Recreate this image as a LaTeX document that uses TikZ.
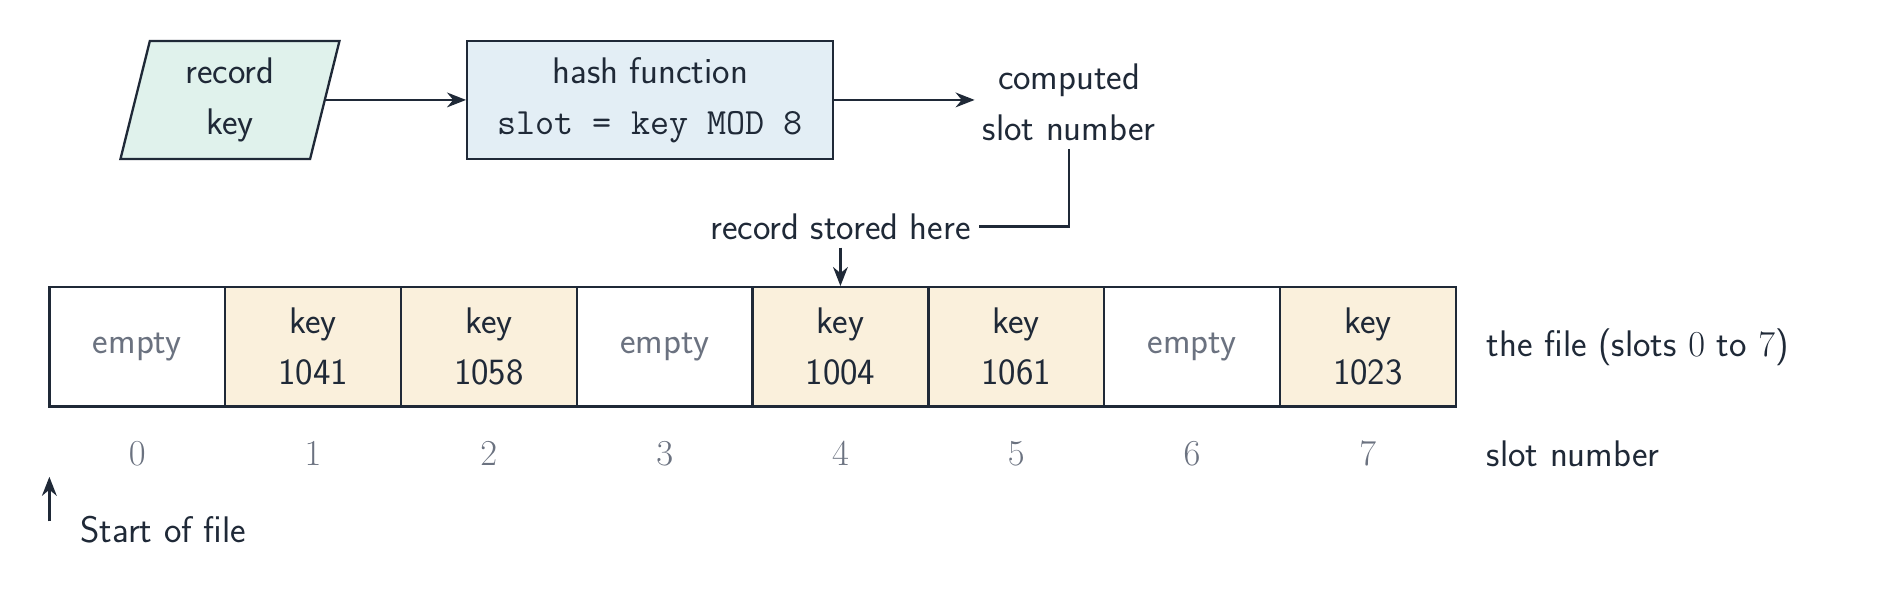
\documentclass[tikz,border=0pt]{standalone}
\usepackage{tikz}
\usetikzlibrary{shapes.geometric,positioning,arrows.meta}
\definecolor{ink}{HTML}{1F2937}
\definecolor{dim}{HTML}{6B7280}
\definecolor{keyfill}{HTML}{FAF0DC}
\definecolor{hashfill}{HTML}{E3EEF5}
\definecolor{infill}{HTML}{E0F2EC}
\tikzset{font=\sffamily\fontsize{17.5}{24}\selectfont}
\begin{document}
\begin{tikzpicture}[x=0.02cm,y=-0.02cm,color=ink,line width=1.1pt,
  slotcell/.style={draw=ink,minimum width=2.92cm,minimum height=1.98cm,inner sep=0pt,align=center},
  used/.style={slotcell,fill=keyfill},
  free/.style={slotcell,fill=white,text=dim},
  arr/.style={-{Stealth[length=9pt,width=7pt]}}]
\useasboundingbox (0,0) rectangle (1568,497);
% input and hash box
\node [trapezium,trapezium left angle=79,trapezium right angle=101,trapezium stretches=true,draw=ink,fill=infill,
  minimum width=3.66cm,minimum height=1.96cm,align=center,inner sep=0pt] (rk) at (191,83) {record\\key};
\node [draw=ink,fill=hashfill,minimum width=6.08cm,minimum height=1.96cm,align=center] (hf) at (540,83)
  {hash function\\\texttt{slot = key MOD 8}};
\node [align=center] (cs) at (888,85) {computed\\slot number};
\draw [arr] (rk.east) -- (rk.east -| hf.west);
\draw [arr] (hf.east) -- (hf.east -| cs.west);
% the file
\foreach \i/\t/\s in {0/empty/free,1/{key\\1041}/used,2/{key\\1058}/used,3/empty/free,
  4/{key\\1004}/used,5/{key\\1061}/used,6/empty/free,7/{key\\1023}/used}{
  \node [\s] (c\i) at (114+146*\i,288) {\t};
  \node [text=dim] (n\i) at (114+146*\i,377) {$\i$};
}
\node [anchor=west] (fl) at (1228,288) {the file (slots $0$ to $7$)};
\node [anchor=west] (sl) at (1228,377) {slot number};
\node (rs) at (698,188) {record stored here};
\draw (cs.south) -- (cs.south |- rs.east) -- (rs.east);
\draw [arr] (rs.south) -- (c4.north);
\coordinate (sf) at (41,433);
\draw [arr] (sf) -- (41,396);
\node [anchor=west] (st) at (60,440) {Start of file};
\end{tikzpicture}
\end{document}
